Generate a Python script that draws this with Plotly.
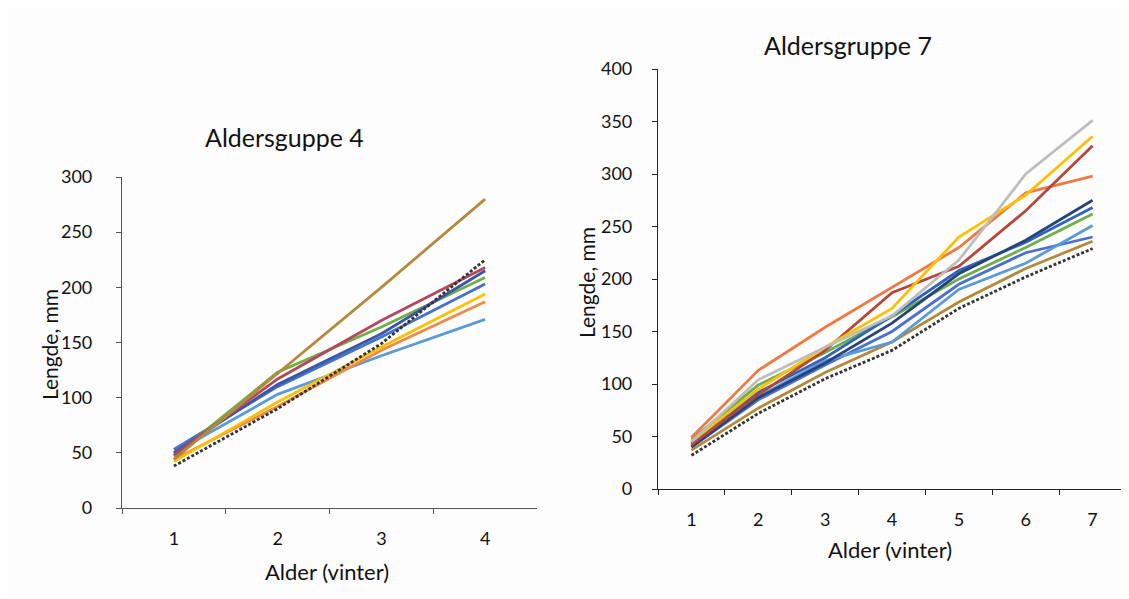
import plotly.graph_objects as go

W, H = 1129, 599
OFF = 8  # page body margin shift, compensated in positions

# ---------- data ----------
ages4 = ["1", "2", "3", "4"]
g4_gold = [44, 122, 200, 280]
g4_red = [48, 117, 170, 218]
g4_darkblue = [50, 112, 158, 215]
g4_green = [47, 123, 164, 209]
g4_blue = [53, 110, 155, 203]
g4_yellow = [42, 96, 146, 194]
g4_orange = [44, 92, 143, 187]
g4_lightblue = [50, 103, 138, 171]
g4_black = [38, 90, 149, 225]

ages7 = ["1", "2", "3", "4", "5", "6", "7"]
g7_orange = [49, 113, 154, 192, 230, 282, 298]
g7_yellow = [45, 95, 135, 172, 240, 280, 336]
g7_gray = [45, 104, 135, 165, 218, 300, 351]
g7_red = [42, 90, 132, 187, 212, 265, 327]
g7_green = [47, 99, 130, 164, 200, 230, 262]
g7_blue = [44, 92, 125, 165, 208, 235, 268]
g7_darkblue = [40, 87, 120, 158, 205, 237, 275]
g7_lightblue = [42, 88, 122, 140, 190, 215, 251]
g7_midblue = [40, 85, 118, 150, 195, 225, 240]
g7_brown = [37, 77, 111, 140, 178, 210, 236]
g7_black = [32, 72, 105, 132, 172, 202, 229]

# ---------- styles ----------
left_series = [
    (g4_lightblue, "#5B9BD5", "solid"),
    (g4_orange, "#F08A4B", "solid"),
    (g4_yellow, "#FFC000", "solid"),
    (g4_blue, "#4472C4", "solid"),
    (g4_green, "#70AD47", "solid"),
    (g4_darkblue, "#3A56A8", "solid"),
    (g4_red, "#B5475B", "solid"),
    (g4_black, "#333333", "3px,2px"),
    (g4_gold, "#B5893A", "solid"),
]
right_series = [
    (g7_black, "#333333", "3px,2px"),
    (g7_brown, "#B5893A", "solid"),
    (g7_midblue, "#4A6FD0", "solid"),
    (g7_lightblue, "#5B9BD5", "solid"),
    (g7_green, "#70AD47", "solid"),
    (g7_blue, "#2E64C0", "solid"),
    (g7_darkblue, "#264478", "solid"),
    (g7_orange, "#F07A45", "solid"),
    (g7_red, "#B5473A", "solid"),
    (g7_yellow, "#FFC000", "solid"),
    (g7_gray, "#BDBDBD", "solid"),
]

fig = go.Figure()
for vals, col, dash in left_series:
    fig.add_trace(go.Scatter(x=ages4, y=vals, mode="lines", xaxis="x", yaxis="y",
                             line=dict(color=col, width=2.8, dash=dash), showlegend=False))
for vals, col, dash in right_series:
    fig.add_trace(go.Scatter(x=ages7, y=vals, mode="lines", xaxis="x2", yaxis="y2",
                             line=dict(color=col, width=2.8, dash=dash), showlegend=False))

def px_x(p):
    return (p - OFF) / W

def px_y(p):
    return 1 - (p - OFF) / H

font = "Lato, 'Open Sans', sans-serif"
tickfont = dict(family=font, size=18, color="#111")

axis_common = dict(showgrid=False, zeroline=False, showline=True, linewidth=1.2,
                   ticks="outside", ticklen=5, tickwidth=1, tickfont=tickfont,
                   automargin=False)

fig.update_layout(
    template="none",
    width=W, height=H,
    margin=dict(l=0, r=0, t=0, b=0, pad=0),
    paper_bgcolor="#FDFDFD", plot_bgcolor="#FDFDFD",
    xaxis=dict(domain=[px_x(122), px_x(537)], anchor="y", type="category",
               range=[-0.5, 3.5], tickson="boundaries", linecolor="#555", tickcolor="#555",
               ticklabelstandoff=14, **axis_common),
    yaxis=dict(domain=[px_y(508), px_y(177)], anchor="x", range=[0, 300],
               tickvals=[0, 50, 100, 150, 200, 250, 300], linecolor="#555", tickcolor="#555",
               ticklabelstandoff=20, **axis_common),
    xaxis2=dict(domain=[px_x(658), px_x(1126)], anchor="y2", type="category",
                range=[-0.5, 6.5], tickson="boundaries", linecolor="#222", tickcolor="#222",
                ticklabelstandoff=14, **axis_common),
    yaxis2=dict(domain=[px_y(489), px_y(69)], anchor="x2", range=[0, 400],
                tickvals=[0, 50, 100, 150, 200, 250, 300, 350, 400], linecolor="#222", tickcolor="#222",
                ticklabelstandoff=16, **axis_common),
)

ann = [
    ("Aldersguppe 4", 284, 137, 25, 0),
    ("Aldersgruppe 7", 848, 45, 25, 0),
    ("Alder (vinter)", 327, 571, 22, 0),
    ("Alder (vinter)", 890, 549, 22, 0),
    ("Lengde, mm", 49, 345, 21, -90),
    ("Lengde, mm", 587, 283, 21, -90),
]
for text, x, y, size, ang in ann:
    fig.add_annotation(text=text, x=px_x(x), y=px_y(y), xref="paper", yref="paper",
                       showarrow=False, textangle=ang, xanchor="center", yanchor="middle",
                       font=dict(family=font, size=size, color="#111"))

fig.write_html("out.html")
